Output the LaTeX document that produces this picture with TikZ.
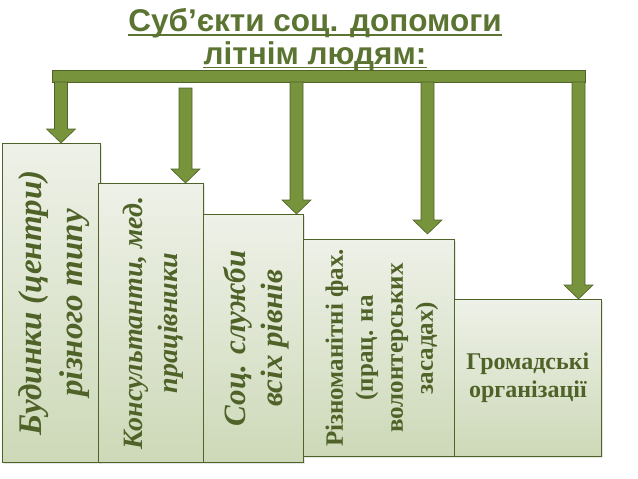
\documentclass[tikz,border=0pt]{standalone}
\usepackage{fontspec}
\setmainfont{Liberation Serif}
\newfontfamily\titlefont{Liberation Sans}
\usepackage{tikz}
\usetikzlibrary{calc,shadows}
\definecolor{olivebar}{HTML}{77933C}
\definecolor{olivedark}{HTML}{4F6228}
\definecolor{olivetitle}{HTML}{5C7431}
\definecolor{boxtop}{HTML}{EEF1E8}
\definecolor{boxbot}{HTML}{CDD9B8}

% thick arrow from a point on the bar down to the top of a box
\newcommand{\fatarrow}[3][0pt]{%
\filldraw[arrowfill] ($(#2)+(-6.5pt,0)$) -- ($(#2 |- #3.north)+(-6.5pt,#1+14pt)$)
  -- ($(#2 |- #3.north)+(-14.5pt,#1+14pt)$) -- ($(#2 |- #3.north)+(0pt,#1)$)
  -- ($(#2 |- #3.north)+(14.5pt,#1+14pt)$) -- ($(#2 |- #3.north)+(6.5pt,#1+14pt)$)
  -- ($(#2)+(6.5pt,0)$) -- cycle;}

\begin{document}
\begin{tikzpicture}[x=1pt,y=-1pt,
  box/.style={draw=olivedark, line width=0.8pt, top color=boxtop, bottom color=boxbot,
    inner sep=0pt, anchor=north west,
    drop shadow={opacity=0.2, shadow xshift=2pt, shadow yshift=-2pt}},
  vitext/.style 2 args={rotate=90, align=center, text=olivedark, font=\fontsize{#1}{#2}\selectfont\bfseries\itshape},
  vtext/.style 2 args={rotate=90, align=center, text=olivedark, font=\fontsize{#1}{#2}\selectfont\bfseries},
  htext/.style 2 args={align=center, text=olivedark, font=\fontsize{#1}{#2}\selectfont\bfseries},
  titletext/.style={text=olivetitle, font=\titlefont\fontsize{31.5}{36}\selectfont\bfseries, inner sep=0pt, anchor=base},
  titleline/.style={draw=olivetitle, line width=1.6pt},
  arrowfill/.style={fill=olivebar, draw=olivedark, line width=0.6pt}]
\useasboundingbox (0,0) rectangle (638,479);

\node[titletext] (title1) at (315,31) {Суб’єкти соц. допомоги};
\node[titletext] (title2) at (315,64) {літнім людям:};
\draw[titleline] ([yshift=-4pt]title1.base west) -- ([yshift=-4pt]title1.base east);
\draw[titleline] ([yshift=-3.5pt]title2.base west) -- ([yshift=-3.5pt]title2.base east);

\node[box, minimum width=98.5pt, minimum height=319pt] (bud) at (1.5,143) {};
\node[box, minimum width=105.5pt, minimum height=279pt] (kons) at (97.5,183) {};
\node[box, minimum width=100pt, minimum height=248pt] (soc) at (203,214) {};
\node[box, minimum width=151pt, minimum height=217pt] (riz) at (303,239) {};
\node[box, minimum width=147pt, minimum height=156.5pt] (hrom) at (454,299) {};

\node[vitext={33}{41}] (bud-t) at ($(bud.center)+(3pt,0)$) {Будинки (центри)\\різного типу};
\node[vitext={28}{35}] (kons-t) at ($(kons.center)+(3pt,0)$) {Консультанти, мед.\\працівники};
\node[vitext={31}{37}] (soc-t) at ($(soc.center)+(3pt,0)$) {Соц. служби\\всіх рівнів};
\node[vtext={25}{30}] (riz-t) at ($(riz.center)+(3pt,0)$) {Різноманітні фах.\\(прац. на\\волонтерських\\засадах)};
\node[htext={24}{28}] (hrom-t) at (hrom.center) {Громадські\\організації};

\node[fill=olivebar, draw=olivedark, line width=0.6pt, minimum width=533pt, minimum height=12pt, inner sep=0pt] (bar) at (318.5,76) {};
\coordinate (s1) at (61,82);
\coordinate (s2) at (185.5,88);
\coordinate (s3) at (296.5,82);
\coordinate (s4) at (427.5,82);
\coordinate (s5) at (578.5,82);

\fatarrow{s1}{bud}
\fatarrow{s2}{kons}
\fatarrow{s3}{soc}
\fatarrow[5pt]{s4}{riz}
\fatarrow{s5}{hrom}
\end{tikzpicture}
\end{document}
